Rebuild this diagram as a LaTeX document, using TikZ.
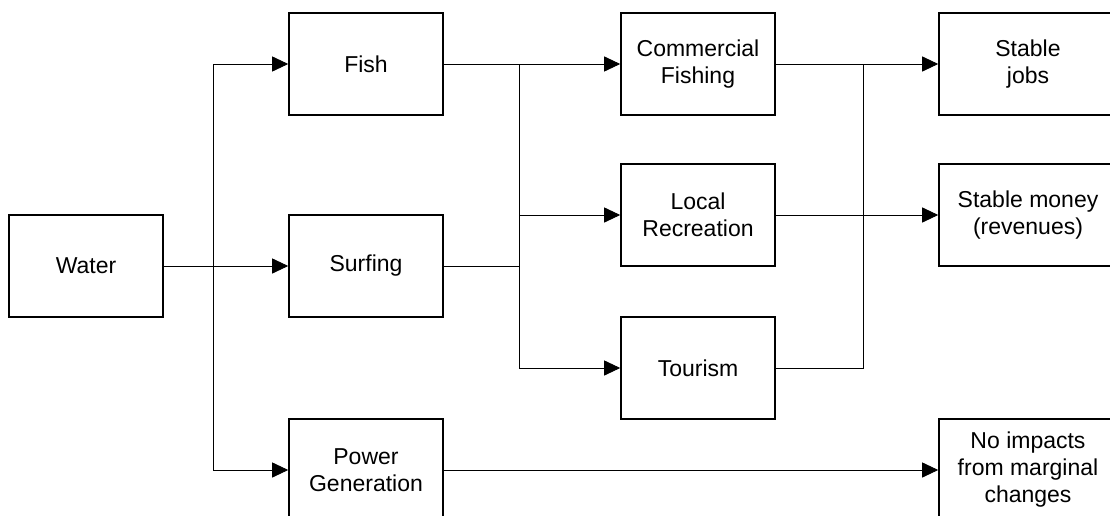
\documentclass[tikz,border=0pt]{standalone}
\usepackage{fontspec}
\setmainfont{Liberation Sans}
\usetikzlibrary{arrows.meta}

\begin{document}
\begin{tikzpicture}[x=1pt, y=-1pt,
    box/.style={draw, line width=1.6pt, minimum width=154pt, minimum height=102pt,
        inner sep=0pt, align=center, font=\fontsize{23}{27}\selectfont},
    widebox/.style={box, minimum width=178pt},
    link/.style={line width=0.9pt},
    arrow/.style={link, -{Triangle[length=16pt, width=15pt]}}]
\useasboundingbox (0,0) rectangle (1110,516);
% First and second columns
    \node[box] (water) at (86,266) {Water};
    \node[box] (fish) at (366,64) {Fish};
    \node[box] (surfing) at (366,266) {Surfing};
    \node[box] (power) at (366,470) {Power\\Generation};
% Third column
    \node[box] (commercial) at (698,64) {Commercial\\Fishing};
    \node[box] (local) at (698,215) {Local\\Recreation};
    \node[box] (tourism) at (698,368) {Tourism};
% Outcomes
    \node[widebox] (jobs) at (1028,64) {Stable\\jobs};
    \node[widebox] (money) at (1028,215) {Stable money\\(revenues)};
    \node[widebox] (noimpact) at (1028,470) {No impacts\\from marginal\\changes};
% Junctions
    \coordinate (trunk) at (213,266);
    \coordinate (split) at (519,266);
    \coordinate (merge) at (863,64);
% Water to the uses
    \draw[arrow] (water) -- (surfing);
    \draw[arrow] (trunk) |- (fish);
    \draw[arrow] (trunk) |- (power);
% Uses to activities
    \draw[arrow] (fish) -- (commercial);
    \draw[link] (surfing) -- (split);
    \draw[link] (split) -- (split |- fish);
    \draw[arrow] (split) |- (local);
    \draw[arrow] (split) |- (tourism);
% Activities to outcomes
    \draw[arrow] (commercial) -- (jobs);
    \draw[arrow] (local) -- (money);
    \draw[link] (tourism) -| (merge);
    \draw[arrow] (power) -- (noimpact);
\end{tikzpicture}
\end{document}
